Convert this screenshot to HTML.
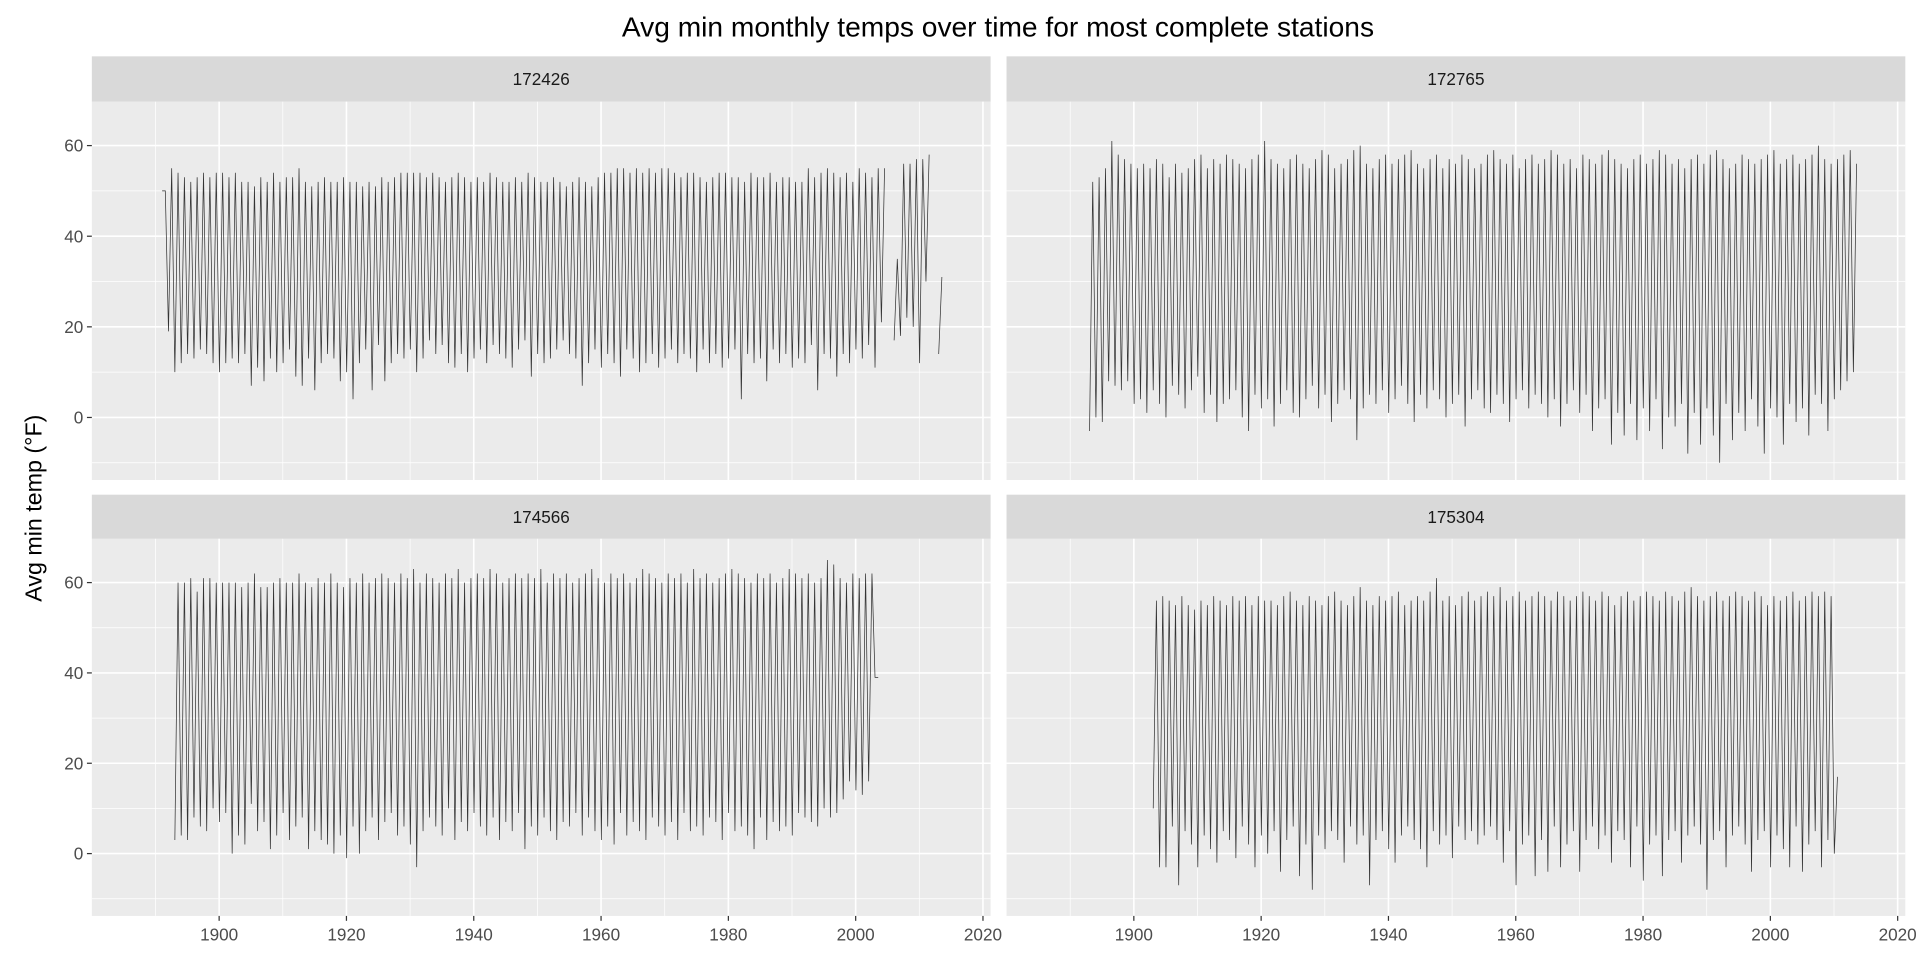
<!DOCTYPE html>
<html><head><meta charset="utf-8"><style>
html,body{margin:0;padding:0;background:#fff;}
svg{display:block;font-family:"Liberation Sans",Arial,sans-serif;}
</style></head><body>
<svg id="chart" width="1920" height="960" viewBox="0 0 1568 784" xmlns="http://www.w3.org/2000/svg">
<text x="815" y="30" font-size="23" text-anchor="middle" fill="#000">Avg min monthly temps over time for most complete stations</text>
<text x="0" y="0" font-size="19" text-anchor="middle" transform="translate(34,415) rotate(-90)" fill="#000">Avg min temp (°F)</text>
<g id="panels"></g>
</svg>
<script>
const stations = ["172426","172765","174566","175304"];
const startYears = [1891,1893,1893,1903];
const peaksA = [50,55,54,53,52,53,54,53,54,54, 53,54,52,52,51,53,52,54,52,53, 53,55,52,51,52,53,52,52,53,52, 52,51,52,51,53,52,53,54,54,54, 54,53,54,53,52,53,54,53,52,53, 52,54,53,52,52,53,52,54,53,52, 52,53,52,51,52,53,52,51,53,54, 54,55,55,54,55,54,55,54,55,55, 54,53,54,54,53,52,53,54,54,53, 53,52,54,53,53,54,52,53,53,52, 52,55,53,54,55,54,53,54,52,55, 54,53,55,55,null,35,56,56,57,57, 58,null,31];
const troughsA = [50,19,10,12,14,13,15,14,12,10, 12,13,12,14,7,11,8,13,10,12, 15,9,7,13,6,12,14,13,8,10, 4,12,15,6,16,8,12,14,13,15, 10,13,17,14,16,12,11,14,10,13, 15,12,16,14,13,11,15,17,9,14, 12,13,15,17,14,13,7,12,15,11, 14,12,9,15,13,10,12,14,11,13, 15,12,14,13,10,15,12,14,11,13, 15,4,14,12,13,8,15,12,14,11, 13,12,16,6,14,13,9,14,12,15, 13,16,11,21,null,17,18,22,20,12, 30,null,14];
const peaksB = [52,53,55,61,58,57,56,55,56,55,57,56,53,56,54,55,57,58,55,57,56,58,57,56,55,57,58,61,57,56,55,57,58,56,55,57,59,58,55,56,57,59,60,56,55,57,58,56,57,58,59,56,55,57,58,55,57,56,58,57,55,56,58,59,57,56,58,55,57,58,56,57,59,58,56,57,55,58,57,56,58,59,57,56,55,57,58,56,57,59,58,56,57,55,57,58,56,58,59,57,55,56,58,57,56,57,58,59,56,57,58,56,57,58,60,57,56,57,58,59,56,58];
const troughsB = [-3,0,-1,8,7,6,8,3,4,1,6,3,0,7,5,2,6,9,1,5,-1,3,4,6,0,-3,5,2,4,-2,3,6,1,0,4,7,2,5,-1,3,6,4,-5,2,5,3,6,1,4,7,3,-1,5,2,6,4,0,3,5,-2,4,6,2,1,5,3,-1,4,6,2,5,3,0,4,-2,3,6,1,5,-3,2,4,-6,1,-4,3,-5,2,-3,4,-7,0,-2,3,-8,1,-6,2,-4,-10,3,-5,1,-3,4,-2,-8,2,0,-6,3,-1,2,-4,5,3,-3,4,6,8,10];
const peaksC = [60,60,61,58,61,61,60,60,60,60,59,60,62,59,59,60,61,60,60,62,60,59,61,60,62,60,59,61,60,62,60,61,62,61,60,62,61,63,60,62,61,60,62,61,63,60,61,62,61,63,62,60,61,62,61,62,61,63,60,62,61,62,60,61,62,63,61,60,62,61,62,60,61,63,62,61,60,62,61,62,60,63,61,62,60,61,62,63,62,61,60,62,61,62,60,61,63,62,61,62,60,61,65,64,61,60,62,61,62,62,39];
const troughsC = [3,4,3,8,6,5,10,7,9,0,4,2,11,5,7,1,4,9,3,6,8,1,5,3,2,0,4,-1,6,0,5,8,3,7,9,4,6,2,-3,5,8,6,4,10,3,7,5,9,6,4,8,3,7,5,9,1,6,4,8,5,3,7,6,9,4,8,5,3,6,2,9,4,7,5,3,8,6,4,7,3,9,5,6,4,8,7,3,9,5,6,4,1,8,3,7,5,6,4,9,8,7,6,10,8,9,12,16,14,13,16,39];
const peaksD = [56,57,56,55,57,55,54,56,55,57,56,55,57,56,57,55,57,56,56,55,57,58,56,55,57,56,55,57,58,56,55,57,59,56,55,57,56,57,58,55,56,57,56,58,61,56,57,55,57,58,56,57,58,57,59,56,57,58,56,57,58,57,56,58,57,56,57,58,57,56,58,57,55,57,58,56,57,58,57,56,58,57,56,58,59,57,56,57,58,56,57,58,57,56,58,57,55,57,56,57,58,56,57,58,57,58,57,17];
const troughsD = [10,-3,-3,6,-7,5,2,-3,4,1,-2,5,3,-1,6,2,-3,4,0,5,-4,3,6,-5,2,-8,4,1,5,3,-2,6,2,4,-7,3,5,1,-2,4,6,3,1,-3,5,2,4,-1,6,3,5,2,4,6,3,-2,5,-7,2,4,-5,3,-4,6,-3,2,5,-4,3,6,1,4,-2,5,3,-3,6,-6,2,4,-5,3,5,-2,4,6,2,-8,3,5,-3,4,6,2,-4,3,5,-3,4,1,-3,6,-4,2,5,-3,3,0];
const peaksAll = [peaksA,peaksB,peaksC,peaksD];
const troughsAll = [troughsA,troughsB,troughsC,troughsD];
const yTicks = [0,20,40,60];
const yMinor = [-10,10,30,50];
const xTicks = [1900,1920,1940,1960,1980,2000,2020];
const xMinor = [1890,1910,1930,1950,1970,1990,2010];

const NS="http://www.w3.org/2000/svg";
const panelsG=document.getElementById('panels');
function mk(tag,attrs,parent){const e=document.createElementNS(NS,tag);for(const k in attrs)e.setAttribute(k,attrs[k]);parent.appendChild(e);return e;}
const layout=[{x0:75,x1:809,sTop:46,pTop:83,pBot:392},{x0:822,x1:1556,sTop:46,pTop:83,pBot:392},{x0:75,x1:809,sTop:404,pTop:440,pBot:748},{x0:822,x1:1556,sTop:404,pTop:440,pBot:748}];
const xDom=[1880.0,2021.2], yDom=[-13.8,69.7];
layout.forEach((L,i)=>{
  const g=mk('g',{},panelsG);
  
  
  const xs=v=>L.x0+(v-xDom[0])/(xDom[1]-xDom[0])*(L.x1-L.x0);
  const ys=v=>L.pBot-(v-yDom[0])/(yDom[1]-yDom[0])*(L.pBot-L.pTop);
  mk('rect',{x:L.x0,y:L.pTop,width:L.x1-L.x0,height:L.pBot-L.pTop,fill:'#ebebeb'},g);
  const strip=mk('rect',{x:L.x0,y:L.sTop,width:L.x1-L.x0,height:L.pTop-L.sTop,fill:'#d9d9d9'},g);
  
  
  const st=mk('text',{x:(L.x0+L.x1)/2,y:(L.sTop+L.pTop)/2+5,'font-size':14,'text-anchor':'middle',fill:'#1a1a1a'},g);
  st.textContent=stations[i];
  
  
  yMinor.forEach(v=>mk('line',{x1:L.x0,x2:L.x1,y1:ys(v),y2:ys(v),stroke:'#fff','stroke-width':0.6},g));
  xMinor.forEach(v=>mk('line',{x1:xs(v),x2:xs(v),y1:L.pTop,y2:L.pBot,stroke:'#fff','stroke-width':0.6},g));
  yTicks.forEach(v=>mk('line',{x1:L.x0,x2:L.x1,y1:ys(v),y2:ys(v),stroke:'#fff','stroke-width':1.3},g));
  xTicks.forEach(v=>{if(xs(v)<=L.x1+1)mk('line',{x1:xs(v),x2:xs(v),y1:L.pTop,y2:L.pBot,stroke:'#fff','stroke-width':1.3},g);});
  if(i%2===0){yTicks.forEach(v=>{
    mk('line',{x1:L.x0-4,x2:L.x0,y1:ys(v),y2:ys(v),stroke:'#333','stroke-width':1},g);
    const t=mk('text',{x:L.x0-7,y:ys(v)+5,'font-size':14,'text-anchor':'end',fill:'#4d4d4d'},g);
    t.textContent=v;
    
    
  });}
  if(i>=2){xTicks.forEach(v=>{
    mk('line',{x1:xs(v),x2:xs(v),y1:L.pBot,y2:L.pBot+4,stroke:'#333','stroke-width':1},g);
    const t=mk('text',{x:xs(v),y:L.pBot+20,'font-size':14,'text-anchor':'middle',fill:'#4d4d4d'},g);
    t.textContent=v;
    
    
  });}
  const P=peaksAll[i],T=troughsAll[i];let d='',pen=false;
  const n=Math.max(P.length,T.length);
  for(let k=0;k<n;k++){
    const pts=[[startYears[i]+k+0.04,T[k]],[startYears[i]+k+0.55,P[k]]];
    pts.forEach(([x,v])=>{
      if(v===null||v===undefined){pen=false;return;}
      d+=(pen?'L':'M')+xs(x).toFixed(1)+','+ys(v).toFixed(1);pen=true;
    });
  }
  const path=mk('path',{d:d,fill:'none',stroke:'#333','stroke-width':0.6},g);
  
  
});
</script>
</body></html>
